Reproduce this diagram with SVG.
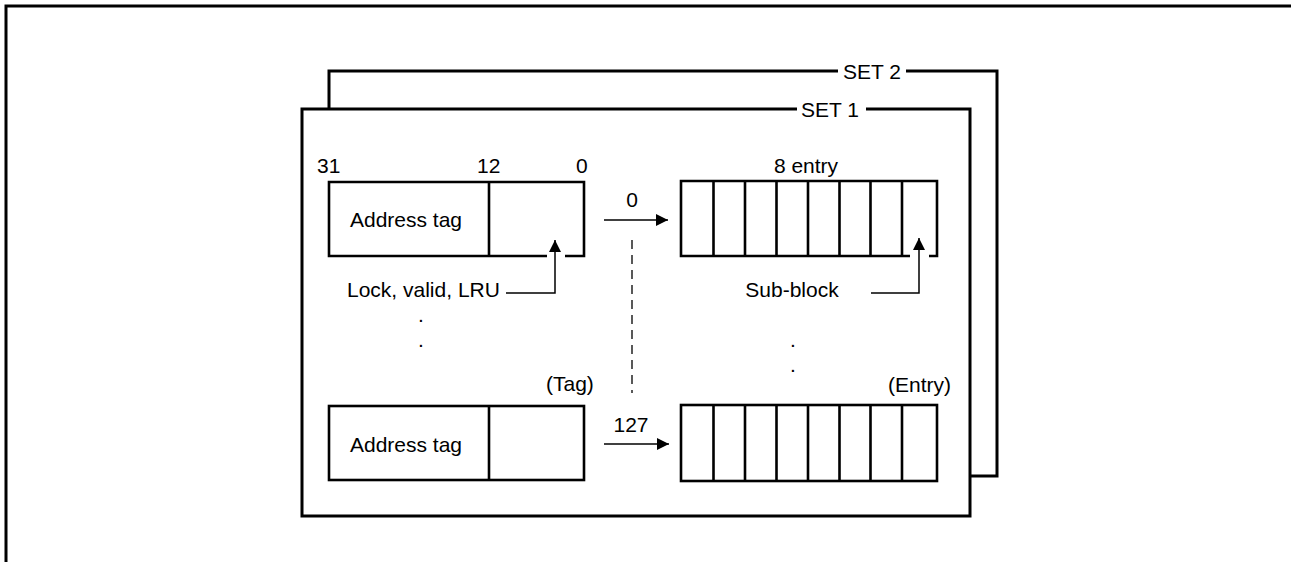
<svg xmlns="http://www.w3.org/2000/svg" width="1291" height="562" viewBox="0 0 1291 562">
<style>
text{font-family:"Liberation Sans",Arial,sans-serif;font-size:21px;fill:#000}
.m{text-anchor:middle}
.frame{fill:none;stroke:#000;stroke-width:3}
.box{fill:none;stroke:#000;stroke-width:2.6}
.ln{fill:none;stroke:#000;stroke-width:1.5}
.dash{fill:none;stroke:#000;stroke-width:1.3;stroke-dasharray:9 6}
</style>
<defs>
<marker id="ah" markerUnits="userSpaceOnUse" markerWidth="12" markerHeight="12" refX="12" refY="6" orient="auto">
<path d="M0,0 L12,6 L0,12 z" fill="#000"/>
</marker>
</defs>
<rect x="0" y="0" width="1291" height="562" fill="#fff"/>
<path class="frame" d="M6,562 V6 H1291" stroke-width="2.6"/>
<g id="set2">
<path class="frame" d="M329,109 V71 H838 M906,71 H997 V476 H970"/>
<text class="m" x="872" y="78.5">SET 2</text>
</g>
<g id="set1">
<path class="frame" d="M797,109 H302 V516 H970 V109 H866"/>
<text class="m" x="830" y="116.5">SET 1</text>
</g>
<g id="tag0">
<path class="box" d="M547,256 H329 V182 H584 V256 H565 M489,182 V256"/>
<text class="m" x="406" y="226.5">Address tag</text>
<text x="317" y="172.5">31</text>
<text x="477" y="172.5">12</text>
<text x="576" y="172.5">0</text>
</g>
<g id="tag127">
<rect class="box" x="329" y="406" width="255" height="74"/>
<path class="box" d="M489,406 V480"/>
<text class="m" x="406" y="451.5">Address tag</text>
<text x="546" y="391">(Tag)</text>
</g>
<g id="entry0">
<path class="box" d="M910,256 H681 V181 H937 V256 H929 M713.5,181 V256 M745,181 V256 M776.5,181 V256 M808,181 V256 M839.5,181 V256 M870.5,181 V256 M902,181 V256"/>
<text class="m" x="806" y="173">8 entry</text>
</g>
<g id="entry127">
<rect class="box" x="681" y="405" width="256" height="76"/>
<path class="box" d="M713.5,405 V481 M745,405 V481 M776.5,405 V481 M808,405 V481 M839.5,405 V481 M870.5,405 V481 M902,405 V481"/>
<text x="888" y="392">(Entry)</text>
</g>
<g id="labels">
<text x="347" y="297">Lock, valid, LRU</text>
<text class="m" x="792" y="297">Sub-block</text>
<text class="m" x="632" y="207">0</text>
<text class="m" x="631" y="432">127</text>
<text class="m" x="421" y="322">.</text>
<text class="m" x="421" y="347">.</text>
<text class="m" x="793" y="347">.</text>
<text class="m" x="793" y="372">.</text>
</g>
<g id="connectors">
<path class="ln" d="M604,220 H668" marker-end="url(#ah)"/>
<path class="ln" d="M604,444 H669" marker-end="url(#ah)"/>
<path class="ln" d="M506,293 H555 V240" marker-end="url(#ah)"/>
<path class="ln" d="M871,293 H919 V238" marker-end="url(#ah)"/>
<path class="dash" d="M632,240 V393"/>
</g>
</svg>
